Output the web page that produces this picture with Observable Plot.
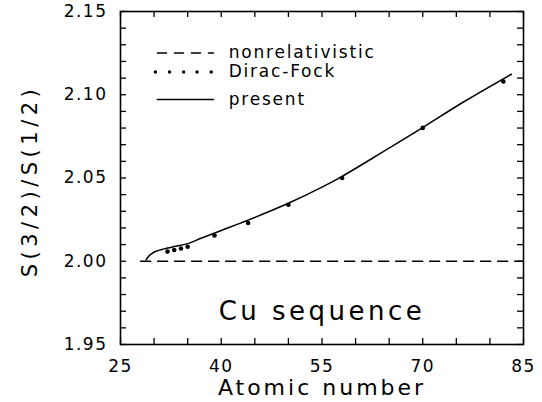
<!DOCTYPE html>
<html><head><meta charset="utf-8">
<script src="https://cdn.jsdelivr.net/npm/d3@7"></script>
<script src="https://cdn.jsdelivr.net/npm/@observablehq/plot@0.6"></script>
<style>
body{margin:0;background:#fff}
svg{font-family:"DejaVu Sans",sans-serif}
</style>
</head><body><div id="chart"></div>
<script>
// "present" calculation (solid curve)
const presentZ     = [28.8, 29.2, 29.7, 30.3, 31, 32, 33, 35, 37, 40, 44, 50, 55, 58, 64, 70, 76, 83.2];
const presentRatio = [2.0008, 2.0030, 2.0048, 2.0060, 2.0069, 2.0079, 2.0088, 2.0106, 2.0138, 2.0185, 2.0247, 2.0348, 2.0445, 2.0510, 2.0655, 2.0803, 2.0955, 2.1123];
// Dirac-Fock points
const diracZ     = [32, 33, 34, 35, 39, 44, 50, 58, 70, 82];
const diracRatio = [2.0058, 2.0068, 2.0077, 2.0087, 2.0155, 2.0230, 2.0339, 2.0500, 2.0801, 2.1080];
// nonrelativistic limit
const nonrelZ = [28, 85];
const nonrelRatio = 2.0;

const xTickLabels = [25, 40, 55, 70, 85];
const yTickLabels = [1.95, 2.00, 2.05, 2.10, 2.15];
const xMinorTicks = [25, 30, 35, 40, 45, 50, 55, 60, 65, 70, 75, 80, 85];
const yMinorTicks = [1.95, 1.96, 1.97, 1.98, 1.99, 2.00, 2.01, 2.02, 2.03, 2.04, 2.05, 2.06, 2.07, 2.08, 2.09, 2.10, 2.11, 2.12, 2.13, 2.14, 2.15];

const legendLabels = ["nonrelativistic", "Dirac-Fock", "present"];
const legendRowRatio = [2.1251, 2.1137, 2.0972];
const legendSampleZ = [30.5, 38.85];
const legendDotZ = [30.2, 32.3, 34.4, 36.4, 38.5];
const legendTextZ = 41.1;

const xTitle = "Atomic number";
const yTitle = "S(3/2)/S(1/2)";
const annotation = "Cu sequence";
const annotationZ = 55;
const annotationRatio = 1.965;

const W = 542, H = 402, mL = 120, mR = 19, mT = 11, mB = 58;
const innerW = W - mL - mR, innerH = H - mT - mB;
const tick = 6;

const present = presentZ.map((z, i) => ({z, r: presentRatio[i]}));
const dirac = diracZ.map((z, i) => ({z, r: diracRatio[i]}));

const plot = Plot.plot({
  width: W, height: H,
  marginLeft: mL, marginRight: mR, marginTop: mT, marginBottom: mB,
  style: {fontFamily: "DejaVu Sans", background: "white", color: "black"},
  x: {domain: [25, 85], label: null},
  y: {domain: [1.95, 2.15], label: null},
  marks: [
    Plot.tickX(xMinorTicks, {x: d => d, insetTop: innerH - tick, strokeWidth: 1.3}),
    Plot.tickX(xMinorTicks, {x: d => d, insetBottom: innerH - tick, strokeWidth: 1.3}),
    Plot.tickY(yMinorTicks, {y: d => d, insetRight: innerW - tick, strokeWidth: 1.3}),
    Plot.tickY(yMinorTicks, {y: d => d, insetLeft: innerW - tick, strokeWidth: 1.3}),
    Plot.axisX(xTickLabels, {tickSize: 0, tickPadding: 15, fontSize: 17, label: null}),
    Plot.axisY(yTickLabels, {tickSize: 0, tickPadding: 13, fontSize: 17, label: null, tickFormat: d3.format(".2f")}),
    Plot.frame({strokeWidth: 1.6}),
    Plot.line(nonrelZ.map(z => ({z, r: nonrelRatio})), {x: "z", y: "r", stroke: "black", strokeWidth: 1.5, strokeDasharray: "10,7"}),
    Plot.line(present, {x: "z", y: "r", curve: "catmull-rom", stroke: "black", strokeWidth: 1.5}),
    Plot.dot(dirac, {x: "z", y: "r", r: 2.3, fill: "black", stroke: null}),
    Plot.line(legendSampleZ.map(z => ({z, r: legendRowRatio[0]})), {x: "z", y: "r", stroke: "black", strokeWidth: 1.5, strokeDasharray: "9,8"}),
    Plot.dot(legendDotZ.map(z => ({z, r: legendRowRatio[1]})), {x: "z", y: "r", r: 1.7, fill: "black", stroke: null}),
    Plot.line(legendSampleZ.map(z => ({z, r: legendRowRatio[2]})), {x: "z", y: "r", stroke: "black", strokeWidth: 1.5}),
    Plot.text(legendLabels, {x: () => legendTextZ, y: (d, i) => legendRowRatio[i], text: d => d, textAnchor: "start", lineAnchor: "middle", fontSize: 17}),
    Plot.text([annotation], {x: () => annotationZ, y: () => annotationRatio, text: d => d, textAnchor: "middle", lineAnchor: "bottom", fontSize: 26}),
    Plot.text([xTitle], {frameAnchor: "bottom", dy: 43, text: d => d, textAnchor: "middle", lineAnchor: "middle", fontSize: 22}),
    Plot.text([yTitle], {frameAnchor: "left", dx: -90, dy: 3, rotate: -90, text: d => d, textAnchor: "middle", lineAnchor: "middle", fontSize: 21})
  ]
});
// letter spacing to mimic the wide plotter font
const spacing = new Map([
  [xTitle, 3], [yTitle, 4.5], [annotation, 3.5],
  ...legendLabels.map(l => [l, 1.8])
]);
d3.select(plot).selectAll("text").each(function() {
  const t = this.textContent;
  const s = spacing.has(t) ? spacing.get(t) : 1.5;
  this.style.letterSpacing = s + "px";
});
document.getElementById("chart").appendChild(plot);
</script>
</body></html>
